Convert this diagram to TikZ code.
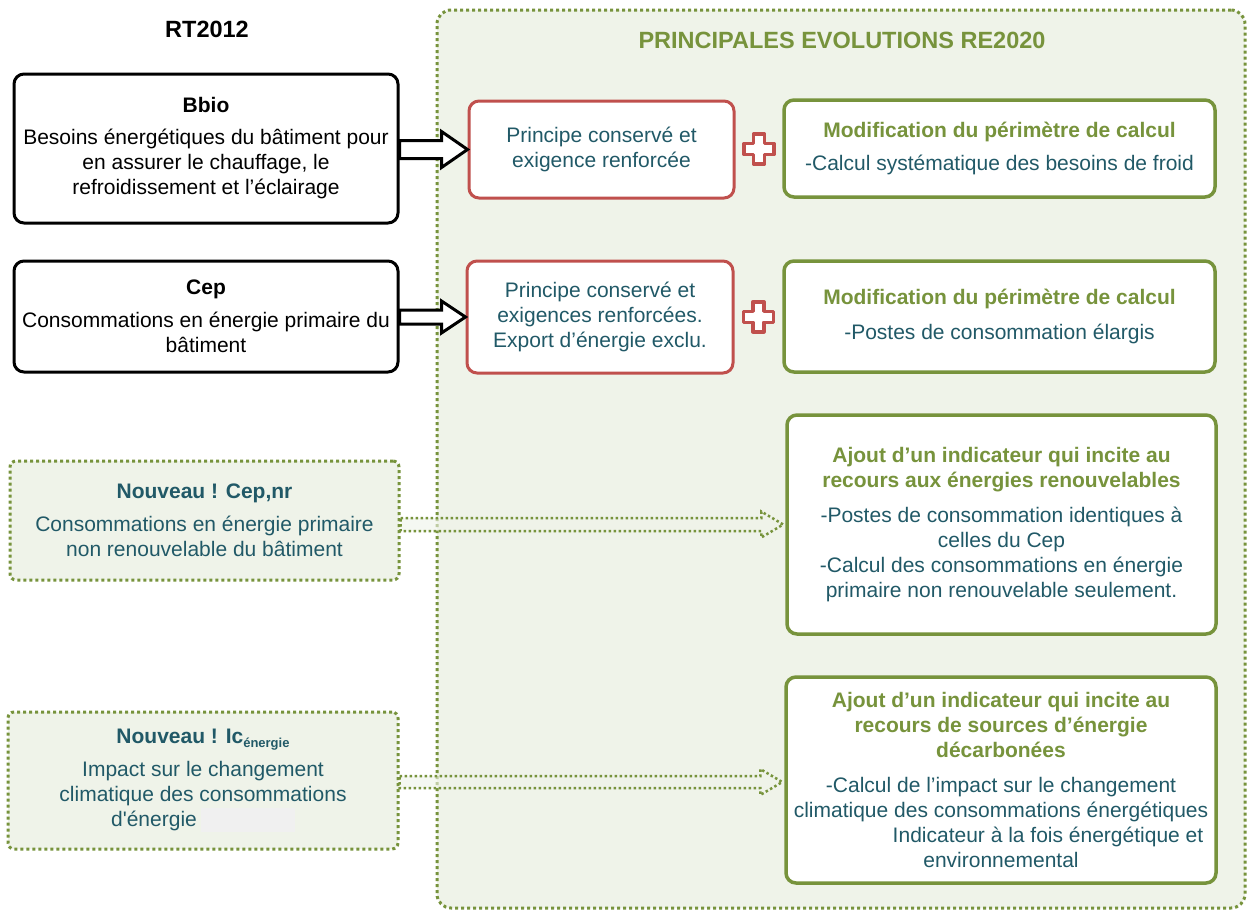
\documentclass[tikz,border=0pt]{standalone}
\usepackage{fontspec}
\setmainfont{Liberation Sans}
\newfontfamily\plainsans{Liberation Sans}
\usetikzlibrary{calc}
\definecolor{tealtxt}{RGB}{33,89,103}
\definecolor{olive}{RGB}{119,147,60}
\definecolor{redc}{RGB}{192,80,77}
\definecolor{bgfill}{RGB}{239,243,233}
\definecolor{greyrect}{RGB}{240,240,240}
\begin{document}
\begin{tikzpicture}[x=1pt,y=-1pt,
  txt/.style={font=\fontsize{21}{25}\selectfont, align=center, inner sep=2pt},
  blackbox/.style={txt, draw=black, line width=3pt, rounded corners=10pt, fill=white, text=black},
  redbox/.style={txt, draw=redc, line width=3pt, rounded corners=10pt, fill=white, text=tealtxt},
  greenbox/.style={txt, draw=olive, line width=3.5pt, rounded corners=10pt, fill=white, text=tealtxt},
  dotbox/.style={txt, draw=olive, line width=3pt, dash pattern=on 3pt off 3pt, rounded corners=6pt, fill=bgfill, text=tealtxt},
  container/.style={draw=olive, line width=3pt, dash pattern=on 3pt off 3pt, rounded corners=14pt, fill=bgfill},
  heading/.style={font=\fontsize{23.5}{27}\selectfont\bfseries, inner sep=0pt},
  blockarrow/.style={draw=black, line width=3pt, fill=white, line join=miter},
  dotarrow/.style={draw=olive, line width=2.5pt, dash pattern=on 2.5pt off 2.5pt, fill=bgfill, fill opacity=0.6},
  plussign/.style={draw=redc, line width=3.5pt, fill=white, line join=round}
]
\useasboundingbox (0,0) rectangle (1248,911);

% container
\node[container, minimum width=808pt, minimum height=898pt] (evol) at (841,459) {};
\node[heading, text=olive] (evoltitle) at (842,40) {PRINCIPALES EVOLUTIONS RE2020};
\node[heading, text=black] (rttitle) at (207,29) {RT2012};

% left RT2012 boxes
\node[blackbox, minimum width=384pt, minimum height=149pt] (bbio) at (206,148.5)
  {\textbf{Bbio}\\[7pt]Besoins énergétiques du bâtiment pour\\en assurer le chauffage, le\\refroidissement et l’éclairage};
\node[blackbox, minimum width=384pt, minimum height=111pt] (cep) at (206,316.5)
  {\textbf{Cep}\\[8pt]Consommations en énergie primaire du\\bâtiment};

% new indicators (left)
\node[dotbox, minimum width=389pt, minimum height=119pt] (nouv1) at (204.5,520.5)
  {\textbf{Nouveau ! Cep,nr}\\[8pt]Consommations en énergie primaire\\non renouvelable du bâtiment};
\node[dotbox, minimum width=390pt, minimum height=137pt] (nouv2) at (203,780.5)
  {\textbf{Nouveau ! Ic\raisebox{-4pt}{\fontsize{13}{13}\selectfont énergie}}\\[8pt]Impact sur le changement\\climatique des consommations\\d{\plainsans '}énergie\hspace{4pt}\textcolor{greyrect}{\rule[-6pt]{94pt}{24pt}}};

% red boxes
\node[redbox, minimum width=265pt, minimum height=97pt] (red1) at (601.5,149.5)
  {Principe conservé et\\exigence renforcée};
\node[redbox, minimum width=266pt, minimum height=112pt] (red2) at (600,317)
  {Principe conservé et\\exigences renforcées.\\Export d’énergie exclu.};

% green boxes
\node[greenbox, minimum width=431pt, minimum height=97pt] (green1) at (999.5,148.5)
  {\textcolor{olive}{\textbf{Modification du périmètre de calcul}}\\[8pt]-Calcul systématique des besoins de froid};
\node[greenbox, minimum width=431pt, minimum height=111pt] (green2) at (999.5,316.5)
  {\textcolor{olive}{\textbf{Modification du périmètre de calcul}}\\[10pt]-Postes de consommation élargis};
\node[greenbox, minimum width=429pt, minimum height=219pt] (green3) at (1001.5,524.5)
  {\textcolor{olive}{\textbf{Ajout d’un indicateur qui incite au}}\\\textcolor{olive}{\textbf{recours aux énergies renouvelables}}\\[10pt]-Postes de consommation identiques à\\celles du Cep\\-Calcul des consommations en énergie\\primaire non renouvelable seulement.};
\node[greenbox, minimum width=430pt, minimum height=206pt] (green4) at (1001,780)
  {\textcolor{olive}{\textbf{Ajout d’un indicateur qui incite au}}\\\textcolor{olive}{\textbf{recours de sources d’énergie}}\\\textcolor{olive}{\textbf{décarbonées}}\\[10pt]-Calcul de l’impact sur le changement\\climatique des consommations énergétiques\\\hspace*{94pt}Indicateur à la fois énergétique et\\environnemental};

% black block arrows
\draw[blockarrow] ($(bbio.east |- red1.west)+(0,-9)$) -- ($(red1.west)+(-26,-9)$) -- ($(red1.west)+(-26,-18)$)
  -- (red1.west) -- ($(red1.west)+(-26,18)$) -- ($(red1.west)+(-26,9)$) -- ($(bbio.east |- red1.west)+(0,9)$) -- cycle;
\draw[blockarrow] ($(cep.east |- red2.west)+(0,-7)$) -- ($(red2.west)+(-24,-7)$) -- ($(red2.west)+(-24,-16)$)
  -- (red2.west) -- ($(red2.west)+(-24,16)$) -- ($(red2.west)+(-24,7)$) -- ($(cep.east |- red2.west)+(0,7)$) -- cycle;

% dotted block arrows
\draw[dotarrow] ($(nouv1.east |- green3.west)+(0,-6.5)$) -- ($(green3.west)+(-24,-6.5)$) -- ($(green3.west)+(-24,-13)$)
  -- ($(green3.west)+(-2,0)$) -- ($(green3.west)+(-24,13)$) -- ($(green3.west)+(-24,6.5)$) -- ($(nouv1.east |- green3.west)+(0,6.5)$) -- cycle;
\draw[dotarrow] ($(nouv2.east |- green4.west)+(0,-4)$) -- ($(green4.west)+(-24,-4)$) -- ($(green4.west)+(-24,-11)$)
  -- ($(green4.west)+(-2,2)$) -- ($(green4.west)+(-24,15)$) -- ($(green4.west)+(-24,8)$) -- ($(nouv2.east |- green4.west)+(0,8)$) -- cycle;

% plus signs
\coordinate (p1) at ($(red1.east)!0.5!(green1.west)$);
\coordinate (p2) at ($(red2.east)!0.5!(green2.west)$);
\foreach \p in {p1,p2}{
  \draw[plussign, shift={(\p)}] (-5.5,-15) -- (5.5,-15) -- (5.5,-5.5) -- (15,-5.5) -- (15,5.5) -- (5.5,5.5)
    -- (5.5,15) -- (-5.5,15) -- (-5.5,5.5) -- (-15,5.5) -- (-15,-5.5) -- (-5.5,-5.5) -- cycle;
}
\end{tikzpicture}
\end{document}
